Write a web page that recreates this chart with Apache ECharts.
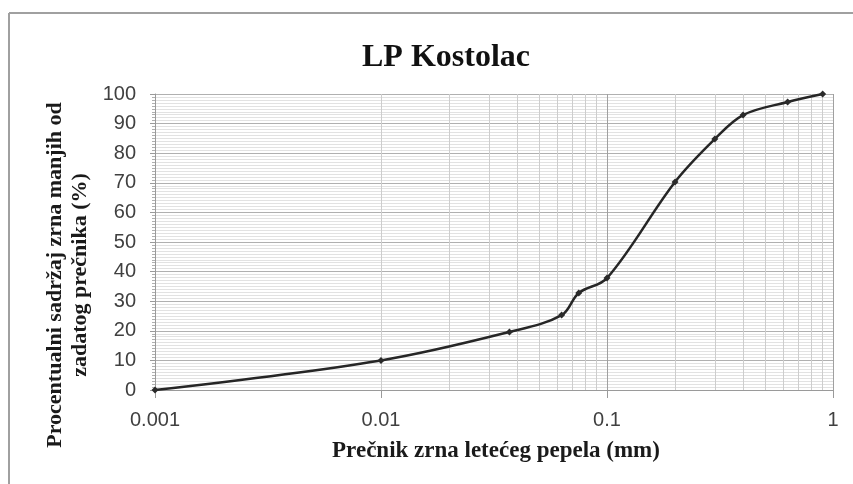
<!DOCTYPE html>
<html>
<head>
<meta charset="utf-8">
<script src="https://cdn.jsdelivr.net/npm/echarts@6/dist/echarts.min.js"></script>
<style>
  html, body { margin: 0; padding: 0; background: #fff; }
  #chart { width: 853px; height: 484px; }
</style>
</head>
<body>
<div id="chart"></div>
<script>
// Grain diameter (mm) and cumulative passing percentage
const diameters = [0.001, 0.01, 0.037, 0.063, 0.075, 0.1, 0.2, 0.3, 0.4, 0.63, 0.9];
const passing   = [0, 10, 19.6, 25.3, 32.8, 37.8, 70.3, 84.8, 92.9, 97.3, 100];

// Log-decade minor grid positions (2..9 within each decade)
const decades = [0.001, 0.01, 0.1];
const minorSteps = [2, 3, 4, 5, 6, 7, 8, 9];

const titleText = 'LP Kostolac';
const xTitle = 'Prečnik zrna letećeg pepela (mm)';
const yTitle = 'Procentualni sadržaj zrna manjih od\nzadatog prečnika (%)';

const minorX = [];
decades.forEach(d => minorSteps.forEach(s => minorX.push(+(d * s).toPrecision(3))));

const chart = echarts.init(document.getElementById('chart'), null, { renderer: 'canvas' });

chart.setOption({
  backgroundColor: '#ffffff',
  animation: false,
  grid: { left: 155, right: 20, top: 94, bottom: 94 },
  xAxis: {
    type: 'log',
    logBase: 10,
    min: 0.001,
    max: 1,
    axisLine: { show: true, onZero: false, lineStyle: { color: '#9a9a9a', width: 1 } },
    axisTick: { show: true, length: 8, lineStyle: { color: '#9a9a9a' } },
    axisLabel: {
      margin: 20,
      fontFamily: 'Liberation Sans',
      fontSize: 20,
      color: '#404040',
      formatter: v => String(v)
    },
    splitLine: { show: true, lineStyle: { color: '#a0a0a0', width: 1 } },
    minorTick: { show: false },
    minorSplitLine: { show: false }
  },
  yAxis: {
    type: 'value',
    min: 0,
    max: 100,
    interval: 10,
    axisLine: { show: true, lineStyle: { color: '#9a9a9a', width: 1 } },
    axisTick: { show: true, inside: false, length: 5, lineStyle: { color: '#9a9a9a' } },
    minorTick: { show: true, splitNumber: 10, length: 3, lineStyle: { color: '#b0b0b0' } },
    axisLabel: {
      margin: 19,
      fontFamily: 'Liberation Sans',
      fontSize: 20,
      color: '#404040'
    },
    splitLine: { show: true, lineStyle: { color: '#b0b0b0', width: 1 } },
    minorSplitLine: { show: true, lineStyle: { color: '#e2e2e2', width: 1 } }
  },
  graphic: [
    { type: 'line', shape: { x1: 9, y1: 13, x2: 9, y2: 484 }, style: { stroke: '#a0a0a0', lineWidth: 2 } },
    { type: 'line', shape: { x1: 9, y1: 13, x2: 853, y2: 13 }, style: { stroke: '#a0a0a0', lineWidth: 2 } },
    {
      type: 'text',
      x: 446,
      y: 58,
      style: {
        text: titleText,
        align: 'center',
        verticalAlign: 'middle',
        fontFamily: 'Liberation Serif',
        fontWeight: 'bold',
        fontSize: 32,
        fill: '#111'
      }
    },
    {
      type: 'text',
      x: 68,
      y: 275,
      rotation: Math.PI / 2,
      style: {
        text: yTitle,
        align: 'center',
        verticalAlign: 'middle',
        fontFamily: 'Liberation Serif',
        fontWeight: 'bold',
        fontSize: 22,
        lineHeight: 25,
        fill: '#1a1a1a'
      }
    },
    {
      type: 'text',
      x: 496,
      y: 451,
      style: {
        text: xTitle,
        align: 'center',
        verticalAlign: 'middle',
        fontFamily: 'Liberation Serif',
        fontWeight: 'bold',
        fontSize: 23,
        fill: '#1a1a1a'
      }
    }
  ],
  series: [
    {
      type: 'line',
      data: diameters.map((d, i) => [d, passing[i]]),
      smooth: 0.35,
      symbol: 'diamond',
      symbolSize: 7,
      itemStyle: { color: '#2a2a2a' },
      lineStyle: { color: '#262626', width: 2.5 },
      z: 5,
      markLine: {
        silent: true,
        symbol: ['none', 'none'],
        label: { show: false },
        lineStyle: { color: '#cdcdcd', width: 1, type: 'solid' },
        data: minorX.map(v => ({ xAxis: v })),
        z: 1
      }
    }
  ]
});
</script>
</body>
</html>
